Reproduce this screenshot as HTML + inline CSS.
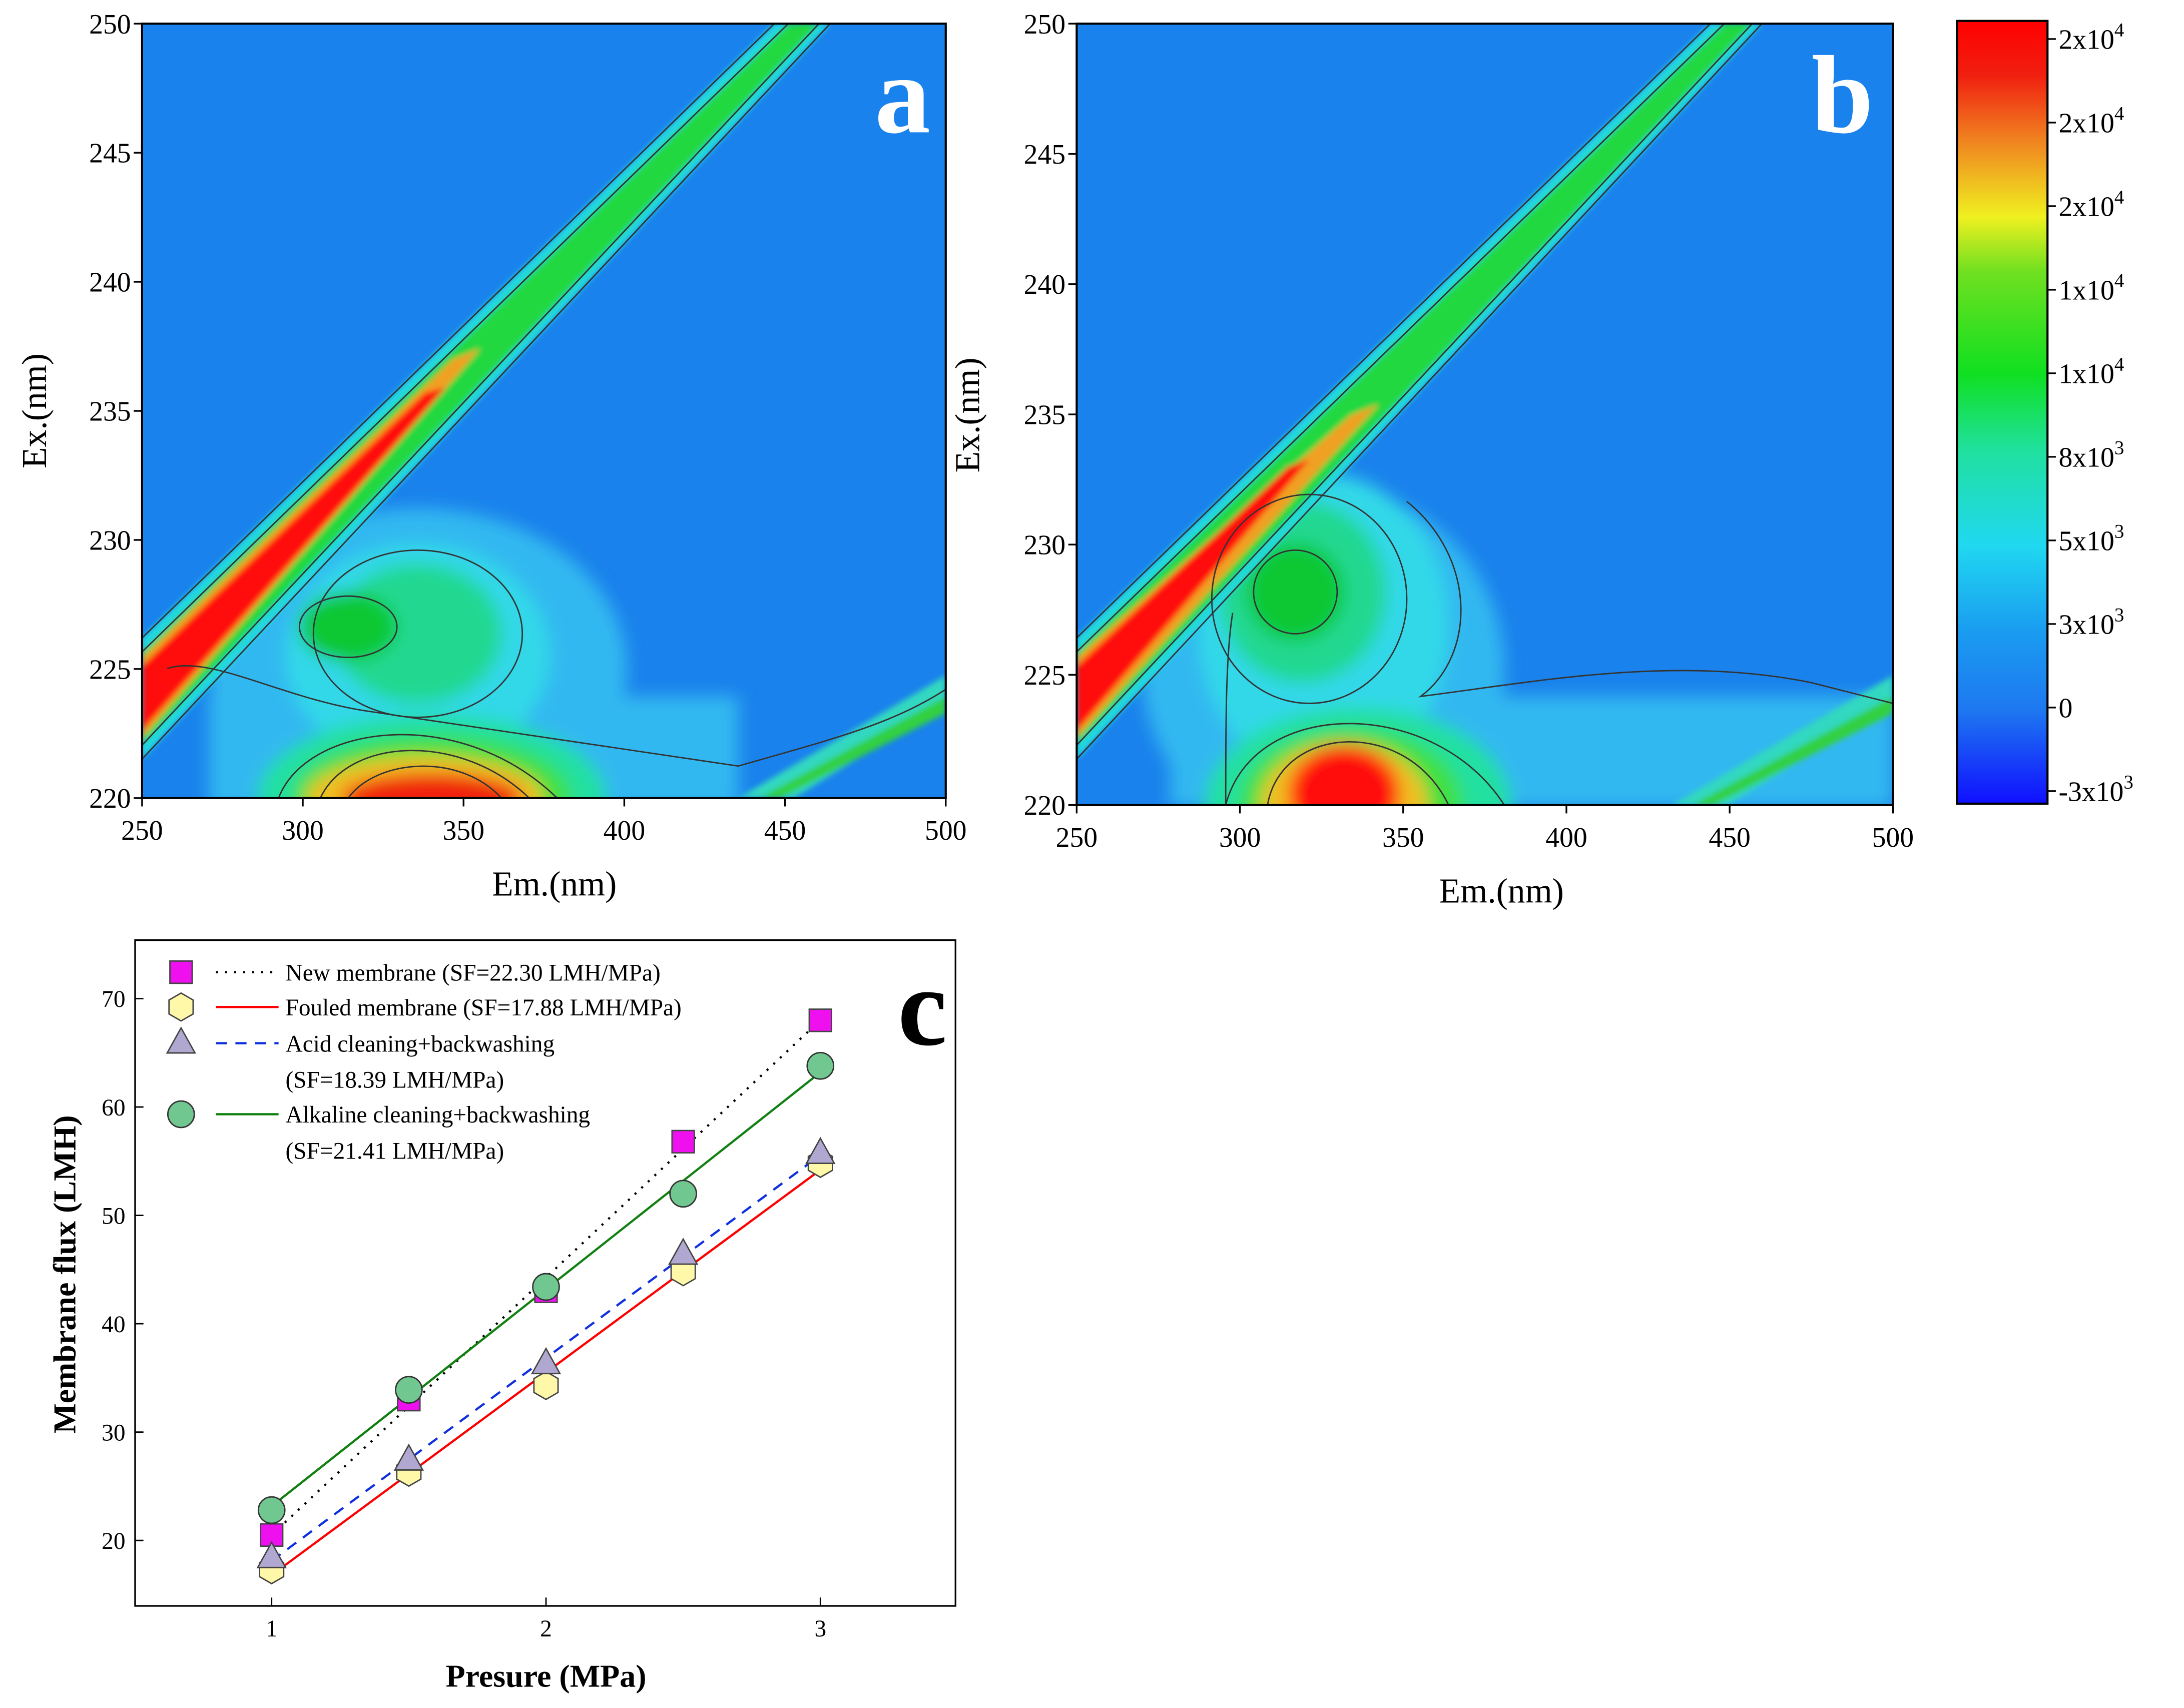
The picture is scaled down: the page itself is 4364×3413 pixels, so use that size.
<!DOCTYPE html>
<html><head><meta charset="utf-8"><style>
html,body{margin:0;padding:0;background:#fff}
svg{display:block}
text{font-family:"Liberation Serif",serif;fill:#000}
</style></head><body>
<svg id="fig" width="4364" height="3413" viewBox="0 0 1568 1226.3" preserveAspectRatio="none" xmlns="http://www.w3.org/2000/svg">
<defs>
<filter id="bl" x="-20%" y="-20%" width="140%" height="140%"><feGaussianBlur stdDeviation="6"/></filter>
<filter id="bl2" x="-20%" y="-20%" width="140%" height="140%"><feGaussianBlur stdDeviation="2"/></filter>
<clipPath id="ca"><rect x="102" y="17" width="577" height="556"/></clipPath>
<clipPath id="cb"><rect x="773" y="17" width="586" height="561"/></clipPath>
<linearGradient id="cbar" x1="0" y1="1" x2="0" y2="0">
<stop offset="0" stop-color="#1010ff"/><stop offset="0.12" stop-color="#1e78f0"/><stop offset="0.22" stop-color="#1a9cf0"/>
<stop offset="0.33" stop-color="#20d8f0"/><stop offset="0.45" stop-color="#20e0a0"/><stop offset="0.55" stop-color="#10e020"/>
<stop offset="0.68" stop-color="#70e020"/><stop offset="0.75" stop-color="#f0f020"/><stop offset="0.85" stop-color="#f08020"/>
<stop offset="0.93" stop-color="#f02010"/><stop offset="1" stop-color="#ff0000"/></linearGradient>
</defs>

<!-- Panel a -->
<g>
<g clip-path="url(#ca)">
<rect x="102" y="17" width="577" height="556" fill="#1a82ec"/>
<g filter="url(#bl)">
<ellipse cx="300" cy="480" rx="150" ry="115" fill="#30b8f0"/>
<rect x="150" y="500" width="380" height="80" fill="#30b8f0"/>
<ellipse cx="300" cy="470" rx="95" ry="80" fill="#30d8e8"/>
<ellipse cx="300" cy="455" rx="60" ry="50" fill="#20d890"/>
<ellipse cx="250" cy="450" rx="35" ry="25" fill="#10c830"/>
<ellipse cx="310" cy="573" rx="125" ry="60" fill="#20e0a0"/>
<ellipse cx="310" cy="573" rx="100" ry="45" fill="#40e040"/>
<ellipse cx="305" cy="573" rx="85" ry="30" fill="#f0c020"/>
<ellipse cx="310" cy="573" rx="65" ry="18" fill="#f02010"/>
</g>
<g filter="url(#bl2)">
<polygon points="102,458 102,545 596,17 556,17" fill="#20d8e0"/>
<polygon points="102,468 102,535 588,17 566,17" fill="#20d840"/>
<polygon points="102,472 102,530 345,250 325,258" fill="#f0a020"/>
<polygon points="102,478 102,525 320,278 305,282" fill="#ff1010"/>
<polygon points="530,573 570,573 679,505 679,485" fill="#30d8c0"/>
<polygon points="545,573 560,573 679,512 679,500" fill="#30d040"/>
</g>
<g fill="none" stroke="#333" stroke-width="1">
<polyline points="102,458 556,17"/><polyline points="102,545 596,17"/>
<polyline points="102,468 566,17"/><polyline points="102,535 588,17"/>
<ellipse cx="250" cy="450" rx="35" ry="22"/><ellipse cx="300" cy="455" rx="75" ry="60"/>
<path d="M120,480 C150,470 200,500 260,510 C330,520 460,540 530,550 C600,530 640,520 679,495"/>
<path d="M200,573 C220,520 330,505 400,573"/><path d="M230,573 C250,530 330,525 380,573"/>
<path d="M250,573 C270,545 330,540 360,573"/>
</g>
</g>
<rect x="102" y="17" width="577" height="556" fill="none" stroke="#000" stroke-width="1.5"/>
<text x="668" y="95" font-size="80" font-weight="bold" style="fill:#fff" text-anchor="end">a</text>
<g id="axa" font-size="20"></g>
<text x="398" y="643" font-size="25" text-anchor="middle">Em.(nm)</text>
<text transform="translate(33,295) rotate(-90)" font-size="25" text-anchor="middle">Ex.(nm)</text>
</g>

<!-- Panel b -->
<g>
<g clip-path="url(#cb)">
<rect x="773" y="17" width="586" height="561" fill="#1a82ec"/>
<g filter="url(#bl)">
<ellipse cx="950" cy="480" rx="130" ry="130" fill="#30b8f0"/>
<rect x="840" y="500" width="519" height="80" fill="#30b8f0"/>
<ellipse cx="950" cy="450" rx="90" ry="110" fill="#30d8e8"/>
<ellipse cx="935" cy="425" rx="60" ry="65" fill="#20d890"/>
<ellipse cx="930" cy="425" rx="35" ry="35" fill="#10c830"/>
<ellipse cx="975" cy="578" rx="110" ry="70" fill="#20e0a0"/>
<ellipse cx="970" cy="578" rx="80" ry="55" fill="#40e040"/>
<ellipse cx="965" cy="578" rx="60" ry="45" fill="#f0c020"/>
<ellipse cx="965" cy="570" rx="40" ry="35" fill="#ff1010"/>
</g>
<g filter="url(#bl2)">
<polygon points="773,458 773,545 1265,17 1228,17" fill="#20d8e0"/>
<polygon points="773,468 773,535 1258,17 1238,17" fill="#20d840"/>
<polygon points="773,472 773,530 990,290 970,298" fill="#f0a020"/>
<polygon points="773,478 773,525 940,330 925,335" fill="#ff1010"/>
<polygon points="1200,578 1240,578 1359,505 1359,485" fill="#30d8c0"/>
<polygon points="1215,578 1230,578 1359,512 1359,500" fill="#30d040"/>
</g>
<g fill="none" stroke="#333" stroke-width="1">
<polyline points="773,458 1228,17"/><polyline points="773,545 1265,17"/>
<polyline points="773,468 1238,17"/><polyline points="773,535 1258,17"/>
<ellipse cx="930" cy="425" rx="30" ry="30"/><ellipse cx="940" cy="430" rx="70" ry="75"/>
<path d="M880,578 C880,520 880,470 885,440 M1010,360 C1060,400 1060,470 1020,500 C1100,490 1200,470 1300,490 C1340,500 1359,505 1359,505"/>
<path d="M880,578 C900,500 1030,500 1080,578"/><path d="M910,578 C920,520 1010,515 1040,578"/>
</g>
</g>
<rect x="773" y="17" width="586" height="561" fill="none" stroke="#000" stroke-width="1.5"/>
<text x="1345" y="95" font-size="80" font-weight="bold" style="fill:#fff" text-anchor="end">b</text>
<g id="axb" font-size="20"></g>
<text x="1078" y="648" font-size="25" text-anchor="middle">Em.(nm)</text>
<text transform="translate(703,298) rotate(-90)" font-size="25" text-anchor="middle">Ex.(nm)</text>
</g>

<!-- Colorbar -->
<g>
<rect x="1405" y="15" width="65" height="562" fill="url(#cbar)" stroke="#000" stroke-width="1.5"/>
<g id="cbt" font-size="20"></g>
</g>

<!-- Panel c -->
<g>
<rect x="97" y="675" width="589" height="478" fill="none" stroke="#000" stroke-width="1.2"/>
<g id="axc" font-size="17"></g>
<g id="series"></g>
<g id="legend"></g>
<text x="680" y="750" font-size="80" font-weight="bold" text-anchor="end">c</text>
<text x="392" y="1211" font-size="23" font-weight="bold" text-anchor="middle">Presure (MPa)</text>
<text transform="translate(54,915) rotate(-90)" font-size="23" font-weight="bold" text-anchor="middle">Membrane flux (LMH)</text>
</g>
</svg>
<script>
const NS="http://www.w3.org/2000/svg";
function mk(tag,attrs,parent,txt){const e=document.createElementNS(NS,tag);for(const k in attrs)e.setAttribute(k,attrs[k]);if(txt!==undefined)e.textContent=txt;parent.appendChild(e);return e;}

const emTicks=[250,300,350,400,450,500];
const exTicks=[220,225,230,235,240,245,250];
function eemAxes(g,x0,x1,y0,y1){
  const sx=v=>x0+(v-250)/250*(x1-x0), sy=v=>y1-(v-220)/30*(y1-y0);
  emTicks.forEach(v=>{
    const l=mk('line',{x1:sx(v),x2:sx(v),y1:y1,y2:y1+6,stroke:'#000','stroke-width':1.2},g);
    
    const t=mk('text',{x:sx(v),y:y1+30,'text-anchor':'middle'},g,String(v));
    
  });
  exTicks.forEach(v=>{
    const l=mk('line',{x1:x0-6,x2:x0,y1:sy(v),y2:sy(v),stroke:'#000','stroke-width':1.2},g);
    
    const t=mk('text',{x:x0-8,y:sy(v)+7,'text-anchor':'end'},g,String(v));
    
  });
}
eemAxes(document.getElementById('axa'),102,679,17,573);
eemAxes(document.getElementById('axb'),773,1359,17,578);

const cbLabels=["2x10^4","2x10^4","2x10^4","1x10^4","1x10^4","8x10^3","5x10^3","3x10^3","0","-3x10^3"];
const cbg=document.getElementById('cbt');
cbLabels.forEach((s,i)=>{
  const y=28+i*(568-28)/9;
  const l=mk('line',{x1:1470,x2:1476,y1:y,y2:y,stroke:'#000','stroke-width':1.2},cbg);
  
  const t=mk('text',{x:1478,y:y+7},cbg);
  
  const p=s.split('^');
  t.appendChild(document.createTextNode(p[0]));
  if(p[1]){mk('tspan',{dy:-9,'font-size':14},t,p[1]);}
});

const pressures=[1,1.5,2,2.5,3];
const newMem=[20.5,33,43,56.8,68];
const fouled=[17.3,26.3,34.3,44.8,54.8];
const acid=[18.4,27.4,36.3,46.4,55.7];
const alkaline=[22.8,33.9,43.4,52,63.8];
const xTicksC=[1,2,3];
const yTicksC=[20,30,40,50,60,70];
const sx=v=>195+(v-1)*197, sy=v=>1106-(v-20)*7.78;
const axc=document.getElementById('axc');
xTicksC.forEach(v=>{
  const l=mk('line',{x1:sx(v),x2:sx(v),y1:1153,y2:1147,stroke:'#000'},axc);
  
  const t=mk('text',{x:sx(v),y:1175,'text-anchor':'middle'},axc,String(v));
  
});
yTicksC.forEach(v=>{
  const l=mk('line',{x1:97,x2:103,y1:sy(v),y2:sy(v),stroke:'#000'},axc);
  
  const t=mk('text',{x:90,y:sy(v)+6,'text-anchor':'end'},axc,String(v));
  
});
function fit(xs,ys){const n=xs.length;const mx=xs.reduce((a,b)=>a+b)/n,my=ys.reduce((a,b)=>a+b)/n;let sxy=0,sxx=0;xs.forEach((x,i)=>{sxy+=(x-mx)*(ys[i]-my);sxx+=(x-mx)**2;});const m=sxy/sxx;return [m,my-m*mx];}
const series=[
 {name:'new-membrane',data:newMem,line:'#000',dash:'1.5,5',shape:'square',fill:'#ee10ee'},
 {name:'fouled-membrane',data:fouled,line:'#ff0000',dash:'',shape:'hex',fill:'#fff8a8'},
 {name:'acid-cleaning',data:acid,line:'#1030e0',dash:'8,6',shape:'tri',fill:'#b0a8d0'},
 {name:'alkaline-cleaning',data:alkaline,line:'#108010',dash:'',shape:'circle',fill:'#70c890'}
];
const sg=document.getElementById('series');
function marker(g,shape,x,y,fill){
  let e;
  if(shape==='square')e=mk('rect',{x:x-8,y:y-8,width:16,height:16,fill:fill,stroke:'#444','stroke-width':1},g);
  else if(shape==='hex'){const r=10;let p=[];for(let k=0;k<6;k++){const a=Math.PI/6+k*Math.PI/3;p.push((x+r*Math.cos(a))+','+(y+r*Math.sin(a)));}e=mk('polygon',{points:p.join(' '),fill:fill,stroke:'#444','stroke-width':1},g);}
  else if(shape==='tri')e=mk('polygon',{points:`${x},${y-11} ${x-10},${y+7} ${x+10},${y+7}`,fill:fill,stroke:'#444','stroke-width':1},g);
  else e=mk('circle',{cx:x,cy:y,r:9.5,fill:fill,stroke:'#333','stroke-width':1},g);
  return e;
}
series.forEach(s=>{
  const [m,b]=fit(pressures,s.data);
  const l=mk('line',{x1:sx(1),y1:sy(m*1+b),x2:sx(3),y2:sy(m*3+b),stroke:s.line,'stroke-width':1.6,'stroke-dasharray':s.dash},sg);
  
});
series.forEach(s=>{
  s.data.forEach((v,i)=>{
    const e=marker(sg,s.shape,sx(pressures[i]),sy(v),s.fill);
    
  });
});
const lg=document.getElementById('legend');
const legRows=[
 {y:698,s:0,lines:["New membrane (SF=22.30 LMH/MPa)"]},
 {y:723,s:1,lines:["Fouled membrane (SF=17.88 LMH/MPa)"]},
 {y:749,s:2,lines:["Acid cleaning+backwashing","(SF=18.39 LMH/MPa)"]},
 {y:800,s:3,lines:["Alkaline cleaning+backwashing","(SF=21.41 LMH/MPa)"]}
];
legRows.forEach(r=>{
  const s=series[r.s];
  const g=mk('g',{},lg);
  
  marker(g,s.shape,130,r.y,s.fill);
  mk('line',{x1:155,x2:200,y1:r.y,y2:r.y,stroke:s.line,'stroke-width':1.6,'stroke-dasharray':s.dash},g);
  r.lines.forEach((t,k)=>mk('text',{x:205,y:r.y+6+k*26,'font-size':17},g,t));
});
</script>
</body></html>
